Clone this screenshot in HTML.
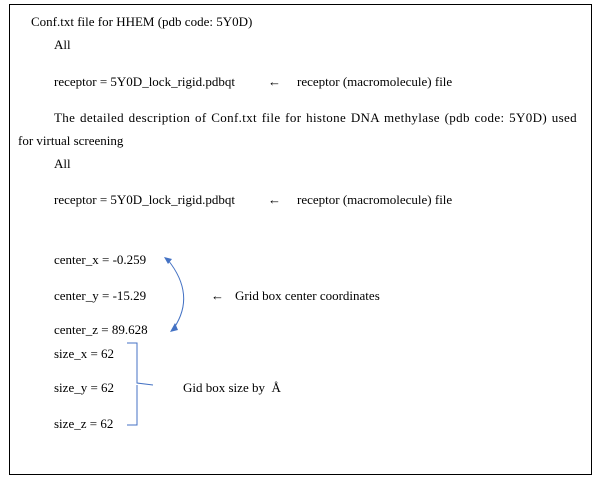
<!DOCTYPE html>
<html><head><meta charset="utf-8"><style>
body{margin:0;background:#fff;width:600px;height:482px;position:relative;overflow:hidden;font-family:"Liberation Serif",serif;font-size:13px;color:#000}
.b{position:absolute;left:9px;top:4px;width:581px;height:469px;border:1.5px solid #000}
.t{position:absolute;white-space:nowrap;line-height:16px}
</style></head><body>
<div class="b"></div>
<div class="t" style="left:31px;top:14px">Conf.txt file for HHEM (pdb code: 5Y0D)</div>
<div class="t" style="left:54px;top:37px">All</div>
<div class="t" style="left:54px;top:74px">receptor = 5Y0D_lock_rigid.pdbqt</div>
<div class="t" style="left:268px;top:74px">←</div>
<div class="t" style="left:297px;top:74px">receptor (macromolecule) file</div>
<div class="t" style="left:54px;top:110px;width:523px;letter-spacing:0.35px;text-align:justify;text-align-last:justify">The detailed description of Conf.txt file for histone DNA methylase (pdb code: 5Y0D) used</div>
<div class="t" style="left:18px;top:133px">for virtual screening</div>
<div class="t" style="left:54px;top:156px">All</div>
<div class="t" style="left:54px;top:192px">receptor = 5Y0D_lock_rigid.pdbqt</div>
<div class="t" style="left:268px;top:192px">←</div>
<div class="t" style="left:297px;top:192px">receptor (macromolecule) file</div>
<div class="t" style="left:54px;top:252px">center_x = -0.259</div>
<div class="t" style="left:54px;top:288px">center_y = -15.29</div>
<div class="t" style="left:54px;top:322px">center_z = 89.628</div>
<div class="t" style="left:211px;top:288px">←</div>
<div class="t" style="left:235px;top:288px">Grid box center coordinates</div>
<div class="t" style="left:54px;top:346px">size_x = 62</div>
<div class="t" style="left:54px;top:380px">size_y = 62</div>
<div class="t" style="left:54px;top:416px">size_z = 62</div>
<div class="t" style="left:183px;top:380px">Gid box size by&nbsp; Å</div>
<svg width="600" height="482" style="position:absolute;left:0;top:0">
<path d="M168,260 Q196,295 174,328" fill="none" stroke="#4472c4" stroke-width="1"/>
<polygon points="164,257 172,259 168,264" fill="#4472c4"/>
<polygon points="170,332 175,323 178,330" fill="#4472c4"/>
<path d="M127,343 H137 V383 L153,385 M137,385 V425 H127" fill="none" stroke="#4472c4" stroke-width="1"/>
</svg>
</body></html>
